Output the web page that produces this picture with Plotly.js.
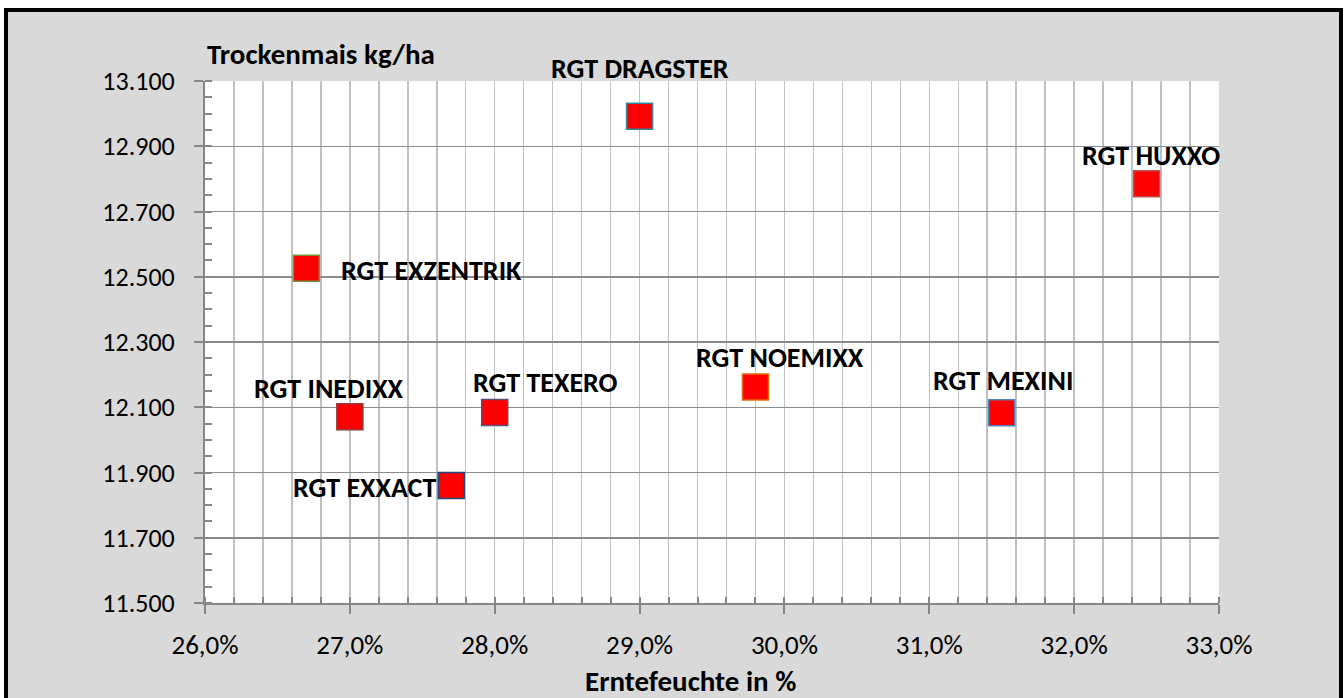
<!DOCTYPE html>
<html>
<head>
<meta charset="utf-8">
<script src="https://cdn.plot.ly/plotly-3.0.1.min.js"></script>
<style>
  html, body { margin: 0; padding: 0; background: #ffffff; overflow: hidden; width: 1344px; height: 698px; }
  #frame { position: absolute; left: 4px; top: 8px; width: 1331px; height: 700px; border: 4px solid #000; background: #d9d9d9; }
  #chart { width: 1331px; height: 700px; }
</style>
</head>
<body>
<div id="frame"><div id="chart"></div></div>
<script>
// ---- data ----
const varieties = ["RGT DRAGSTER", "RGT HUXXO", "RGT EXZENTRIK", "RGT INEDIXX", "RGT TEXERO", "RGT EXXACT", "RGT NOEMIXX", "RGT MEXINI"];
const moisture = [0.290, 0.325, 0.267, 0.270, 0.280, 0.277, 0.298, 0.315];   // Erntefeuchte (fraction)
const yieldKgHa = [12992, 12785, 12526, 12071, 12084, 11860, 12162, 12083]; // Trockenmais kg/ha
const xTitle = "Erntefeuchte in %";
const yTitle = "Trockenmais kg/ha";

// ---- styling (not data) ----
const borderColors = ["#31859c", "#c0504d", "#77933c", "#953735", "#604a7b", "#1f497d", "#e46c0a", "#4f81bd"];
const labelShift = [[0, -48], [4, -28], [125, 2], [-21, -28], [51, -30], [-86, 2], [25, -30], [1, -32]];
const FONT = "Carlito, Calibri, Lato, 'Open Sans', sans-serif";

const trace = {
  type: "scatter",
  mode: "markers",
  x: moisture,
  y: yieldKgHa,
  text: varieties,
  hoverinfo: "text+x+y",
  marker: {
    symbol: "square",
    size: 26,
    color: "#ff0000",
    line: { color: borderColors, width: 1.5 }
  },
  showlegend: false
};

const annotations = varieties.map((name, i) => ({
  x: moisture[i], y: yieldKgHa[i], xref: "x", yref: "y",
  text: "<b>" + name + "</b>", showarrow: false,
  xanchor: "center", yanchor: "middle",
  xshift: labelShift[i][0], yshift: -labelShift[i][1],
  font: { family: FONT, size: 28, color: "#000" }
}));
annotations.push({
  xref: "paper", yref: "paper", x: 0, y: 1, xanchor: "left", yanchor: "middle",
  yshift: 27, showarrow: false, text: "<b>" + yTitle + "</b>",
  font: { family: FONT, size: 29, color: "#000" }
});
annotations.push({
  xref: "paper", yref: "paper", x: 0.5, y: 0, xanchor: "center", yanchor: "middle",
  xshift: -22, yshift: -78, showarrow: false, text: "<b>" + xTitle + "</b>",
  height: 30, valign: "middle",
  font: { family: FONT, size: 29, color: "#000" }
});

const layout = {
  width: 1331, height: 700,
  paper_bgcolor: "#d9d9d9",
  plot_bgcolor: "#ffffff",
  separators: ",.",
  margin: { l: 197, r: 120, t: 69, b: 109, pad: 0 },
  font: { family: FONT, size: 26, color: "#000" },
  showlegend: false,
  xaxis: {
    range: [0.26, 0.33], dtick: 0.01, tick0: 0.26, tickformat: ".1%",
    showline: true, linecolor: "#868686", linewidth: 2,
    ticks: "outside", ticklen: 9, tickwidth: 2, tickcolor: "#868686",
    showgrid: true, gridcolor: "#c0c0c0", gridwidth: 1.5,
    zeroline: false, ticklabelstandoff: 8,
    tickfont: { family: FONT, size: 27, color: "#000" },
    minor: { dtick: 0.002, ticks: "inside", ticklen: 6, tickwidth: 2, tickcolor: "#868686", showgrid: true, gridcolor: "#c0c0c0", gridwidth: 1.5 }
  },
  yaxis: {
    range: [11500, 13100], dtick: 200, tick0: 11500, tickformat: ",.0f",
    showline: true, linecolor: "#868686", linewidth: 2,
    ticks: "outside", ticklen: 9, tickwidth: 2, tickcolor: "#868686",
    showgrid: true, gridcolor: "#8c8c8c", gridwidth: 1.5,
    zeroline: false, ticklabelstandoff: 14,
    tickfont: { family: FONT, size: 26, color: "#000" },
    minor: { dtick: 50, ticks: "inside", ticklen: 7, tickwidth: 2, tickcolor: "#868686", showgrid: false }
  },
  annotations: annotations
};

Plotly.newPlot("chart", [trace], layout, { displayModeBar: false, staticPlot: true });
</script>
</body>
</html>
